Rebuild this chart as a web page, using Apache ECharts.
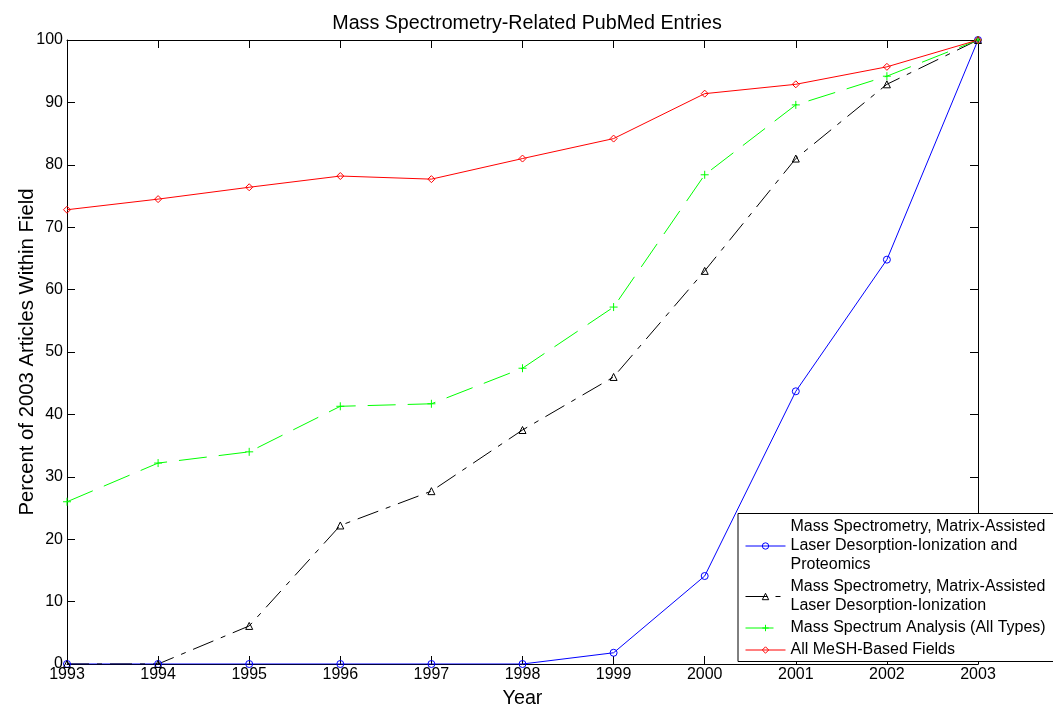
<!DOCTYPE html>
<html>
<head>
<meta charset="utf-8">
<script src="https://cdn.jsdelivr.net/npm/echarts@6/dist/echarts.min.js"></script>
<style>
  html, body { margin: 0; padding: 0; background: #fff; }
  #chart { width: 1053px; height: 708px; }
</style>
</head>
<body>
<div id="chart"></div>
<script>
// Years on the x axis
const years = [1993, 1994, 1995, 1996, 1997, 1998, 1999, 2000, 2001, 2002, 2003];

// Percent of the 2003 article count reached in each year
const maldiProteomics = [0, 0, 0, 0, 0, 0, 1.8, 14.1, 43.7, 64.8, 100];
const maldi = [0, 0, 6.1, 22.2, 27.7, 37.5, 46.0, 63.0, 81.0, 92.9, 100];
const massSpectrumAnalysis = [26.0, 32.2, 34.0, 41.3, 41.7, 47.4, 57.2, 78.4, 89.6, 94.2, 100];
const allMeshFields = [72.8, 74.5, 76.4, 78.2, 77.7, 81.0, 84.2, 91.4, 92.9, 95.7, 100];

const seriesNames = [
  'Mass Spectrometry, Matrix-Assisted\nLaser Desorption-Ionization and\nProteomics',
  'Mass Spectrometry, Matrix-Assisted\nLaser Desorption-Ionization',
  'Mass Spectrum Analysis (All Types)',
  'All MeSH-Based Fields'
];
const seriesColors = ['#0000ff', '#000000', '#00ff00', '#ff0000'];

const yTicks = [0, 10, 20, 30, 40, 50, 60, 70, 80, 90, 100];

const FONT = '"Liberation Sans", Arial, Helvetica, sans-serif';
const PLUS = 'path://M0,5L10,5M5,0L5,10';
const BIG = 19.7;

function pairs(vals) {
  return years.map((y, i) => [y, vals[i]]);
}

function lineSeries(idx, vals, symbol, size, dash) {
  const color = seriesColors[idx];
  return {
    name: seriesNames[idx],
    type: 'line',
    data: pairs(vals),
    symbol: symbol,
    symbolSize: size,
    showAllSymbol: true,
    z: 3,
    lineStyle: { color: color, width: 1, type: dash },
    itemStyle: { color: 'rgba(0,0,0,0)', borderColor: color, borderWidth: 1 },
    emphasis: { disabled: true },
    animation: false
  };
}

const chart = echarts.init(document.getElementById('chart'), null, { renderer: 'canvas' });

const axisCommon = {
  axisLine: { show: true, onZero: false, lineStyle: { color: '#000', width: 1 } },
  axisTick: { show: true, inside: true, length: 8, lineStyle: { color: '#000', width: 1 } },
  splitLine: { show: false }
};

chart.setOption({
  backgroundColor: '#fff',
  animation: false,
  textStyle: { fontFamily: FONT },
  title: {
    text: 'Mass Spectrometry-Related PubMed Entries',
    left: 522,
    top: 9,
    textAlign: 'center',
    textStyle: { fontFamily: FONT, fontSize: BIG, fontWeight: 'normal', color: '#000' }
  },
  grid: { left: 67, right: 75, top: 40, bottom: 44, containLabel: false, outerBoundsMode: 'none' },
  xAxis: [
    Object.assign({
      type: 'value', min: 1993, max: 2003, interval: 1, position: 'bottom',
      name: 'Year', nameLocation: 'middle', nameGap: 25, nameMoveOverlap: false,
      nameTextStyle: { fontFamily: FONT, fontSize: BIG, color: '#000' },
      axisLabel: { color: '#000', fontFamily: FONT, fontSize: 16, margin: 3, formatter: v => String(v) }
    }, axisCommon),
    Object.assign({
      type: 'value', min: 1993, max: 2003, interval: 1, position: 'top',
      axisLabel: { show: false }
    }, axisCommon)
  ],
  yAxis: [
    Object.assign({
      type: 'value', min: 0, max: 100, interval: 10, position: 'left',
      name: 'Percent of 2003 Articles Within Field', nameLocation: 'middle', nameGap: 30, nameMoveOverlap: false,
      nameTextStyle: { fontFamily: FONT, fontSize: 20.3, color: '#000' },
      axisLabel: { color: '#000', fontFamily: FONT, fontSize: 16, margin: 4,
        formatter: v => yTicks.indexOf(v) >= 0 ? String(v) : '' }
    }, axisCommon),
    Object.assign({
      type: 'value', min: 0, max: 100, interval: 10, position: 'right',
      axisLabel: { show: false }
    }, axisCommon)
  ],
  legend: {
    orient: 'vertical',
    left: 738,
    top: 513.5,
    padding: [4, 8, 2, 7],
    itemGap: 3,
    itemWidth: 40,
    itemHeight: 8,
    backgroundColor: '#fff',
    borderColor: '#000',
    borderWidth: 1,
    borderRadius: 0,
    z: 10,
    selectedMode: false,
    textStyle: { fontFamily: FONT, fontSize: 16, color: '#000', lineHeight: 19, padding: [0, 0, 0, 0] },
    data: seriesNames.map((name, i) => ({
      name: name,
      itemStyle: { color: 'rgba(0,0,0,0)', borderColor: seriesColors[i], borderWidth: 1 },
      lineStyle: { color: seriesColors[i], width: 1 }
    }))
  },
  series: [
    lineSeries(0, maldiProteomics, 'circle', 7, 'solid'),
    lineSeries(1, maldi, 'triangle', 7, [22, 8, 5, 8]),
    lineSeries(2, massSpectrumAnalysis, PLUS, 8, [28, 12]),
    lineSeries(3, allMeshFields, 'diamond', 7, 'solid')
  ]
});
</script>
</body>
</html>
